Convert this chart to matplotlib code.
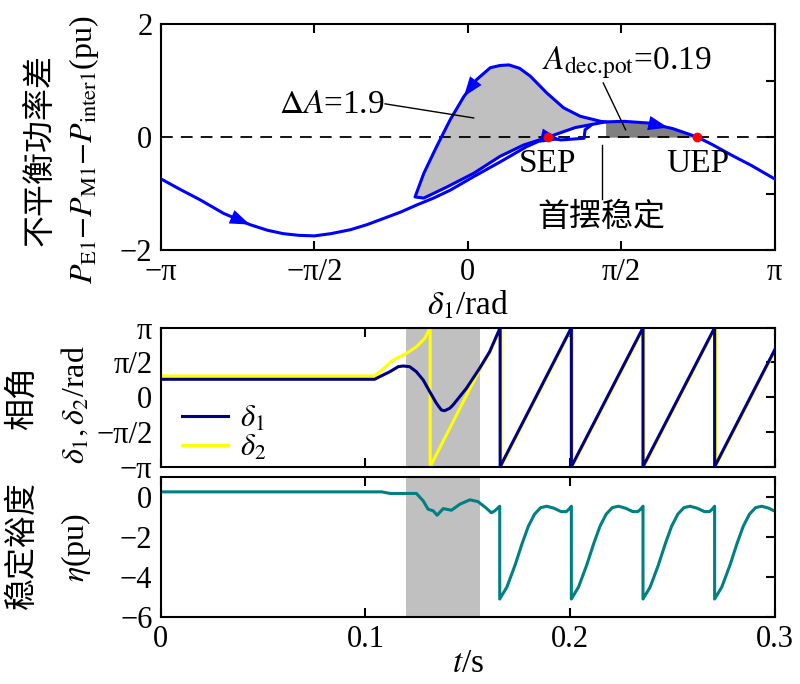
import matplotlib
matplotlib.use('Agg')
import matplotlib.pyplot as plt
import numpy as np

PI = np.pi

# ---------------- data: top panel (delta1 vs unbalanced power) ----------------
main_delta = [-3.14, -2.95, -2.74, -2.50, -2.23, -2.05, -1.89, -1.73, -1.57, -1.40, -1.20,
              -1.03, -0.86, -0.69, -0.52, -0.35, -0.18, 0.06, 0.33, 0.60, 0.82, 1.10, 1.41,
              1.60, 1.85, 2.10, 2.35, 2.50, 2.70, 2.90, 3.14]
main_power = [-0.74, -0.92, -1.11, -1.35, -1.55, -1.65, -1.71, -1.74, -1.75, -1.71, -1.64,
              -1.55, -1.44, -1.33, -1.20, -1.08, -0.94, -0.70, -0.44, -0.17, 0.00, 0.17, 0.27,
              0.28, 0.25, 0.15, 0.00, -0.13, -0.32, -0.50, -0.74]

loop_delta = [1.41, 1.36, 1.15, 0.98, 0.81, 0.64, 0.53, 0.42, 0.33, 0.23, 0.09, -0.04, -0.18,
              -0.32, -0.45, -0.54, -0.45, -0.21, 0.06, 0.33, 0.57, 0.82, 0.95, 1.19, 1.20, 1.26]
loop_power = [0.27, 0.28, 0.37, 0.52, 0.78, 1.08, 1.22, 1.28, 1.27, 1.23, 1.02, 0.72, 0.31,
              -0.17, -0.64, -1.06, -1.08, -0.88, -0.64, -0.34, -0.14, 0.00, -0.05, -0.02, 0.13, 0.21]

sep = (0.82, 0.0)
uep = (2.35, 0.0)
dec_start = 1.41

# ---------------- data: middle panel (angles) ----------------
t_d1 = [0.0, 0.1045, 0.107, 0.1119, 0.1160, 0.1184, 0.1216, 0.1249, 0.1282, 0.1314, 0.1347,
        0.1371, 0.1387, 0.1412, 0.1428, 0.1493, 0.1558, 0.1607, 0.1658, 0.1658, 0.2006, 0.2006,
        0.2356, 0.2356, 0.2706, 0.2706, 0.3]
d1 = [0.81, 0.81, 0.93, 1.15, 1.38, 1.41, 1.38, 1.15, 0.78, 0.25, -0.28,
      -0.58, -0.61, -0.50, -0.35, 0.40, 1.31, 2.06, PI, -PI, PI, -PI,
      PI, -PI, PI, -PI, 2.15]

t_d2 = [0.0, 0.1045, 0.107, 0.1135, 0.1200, 0.1249, 0.1290, 0.1316, 0.1316, 0.1558, 0.1607,
        0.1662, 0.1662, 0.2010, 0.2010, 0.2360, 0.2360, 0.2710, 0.2710, 0.3]
d2 = [0.96, 0.96, 1.15, 1.68, 1.98, 2.28, 2.66, PI, -PI, 1.25, 2.00,
      PI, -PI, PI, -PI, PI, -PI, PI, -PI, 2.08]

# ---------------- data: bottom panel (stability margin) ----------------
t_eta = [0.0, 0.1080, 0.1120, 0.1249, 0.1282, 0.1306, 0.1331, 0.1350, 0.1380, 0.1420, 0.1461,
         0.1510, 0.1550, 0.1591, 0.1615, 0.1632, 0.1656,
         0.1656, 0.1691, 0.1731, 0.1766, 0.1796, 0.1826, 0.1856, 0.1886, 0.1921, 0.1956, 0.1981, 0.1996, 0.2006,
         0.2006, 0.2041, 0.2081, 0.2116, 0.2146, 0.2176, 0.2206, 0.2236, 0.2271, 0.2306, 0.2331, 0.2346, 0.2356,
         0.2356, 0.2391, 0.2431, 0.2466, 0.2496, 0.2526, 0.2556, 0.2586, 0.2621, 0.2656, 0.2681, 0.2696, 0.2706,
         0.2706, 0.2741, 0.2781, 0.2816, 0.2846, 0.2876, 0.2906, 0.2936, 0.2971, 0.3000]
eta = [0.27, 0.27, 0.19, 0.19, -0.18, -0.60, -0.68, -0.90, -0.57, -0.65, -0.35,
       -0.13, -0.22, -0.55, -0.78, -0.68, -0.45,
       -5.10, -4.50, -3.40, -2.30, -1.45, -0.85, -0.52, -0.45, -0.55, -0.72, -0.72, -0.58, -0.45,
       -5.10, -4.50, -3.40, -2.30, -1.45, -0.85, -0.52, -0.45, -0.55, -0.72, -0.72, -0.58, -0.45,
       -5.10, -4.50, -3.40, -2.30, -1.45, -0.85, -0.52, -0.45, -0.55, -0.72, -0.72, -0.58, -0.45,
       -5.10, -4.50, -3.40, -2.30, -1.45, -0.85, -0.52, -0.45, -0.55, -0.70]

fault_start, fault_end = 0.120, 0.156

# ---------------- styling ----------------
plt.rcParams['font.family'] = ['Liberation Serif', 'Noto Sans CJK SC']
plt.rcParams['mathtext.fontset'] = 'stix'
plt.rcParams['axes.linewidth'] = 1.5

FS_TICK = 22
FS_LAB = 23
BLUE = '#0000ff'

fig = plt.figure(figsize=(8, 6.84), dpi=100)
ax1 = fig.add_axes([0.201, 0.6345, 0.7675, 0.330])
ax2 = fig.add_axes([0.201, 0.3177, 0.7675, 0.2032])
ax3 = fig.add_axes([0.201, 0.098, 0.7675, 0.2042])

def style(ax):
    ax.tick_params(direction='in', length=6.5, width=1.5, labelsize=FS_TICK, pad=6,
                   top=True, bottom=True)
    ax.tick_params(axis='y', left=False, right=True, labelleft=True, labelright=False)

# ---------------- top panel ----------------
md = np.array(main_delta); mp = np.array(main_power)
ld = np.array(loop_delta); lp = np.array(loop_power)
isep = int(np.argmin(np.abs(ld - sep[0]) + np.abs(lp - sep[1])))
mask = (md > sep[0]) & (md <= dec_start)
poly_d = np.concatenate([ld[:isep + 1], md[mask]])
poly_p = np.concatenate([lp[:isep + 1], mp[mask]])
ax1.fill(poly_d, poly_p, color='#c0c0c0', lw=0, zorder=1)
ax1.fill_between(md, mp, 0, where=(md >= dec_start) & (md <= uep[0]), color='#808080',
                 lw=0, zorder=1)
ax1.axhline(0, color='k', lw=1.3, ls=(0, (6.5, 4.5)), zorder=2)
ax1.plot(md, mp, color=BLUE, lw=2.2, zorder=3)
ax1.plot(ld, lp, color=BLUE, lw=2.2, zorder=3)

def arrow(ax, xs, ys, i, frac):
    x0, y0, x1, y1 = xs[i], ys[i], xs[i + 1], ys[i + 1]
    tip = (x0 + frac * (x1 - x0), y0 + frac * (y1 - y0))
    tail = (x0 + (frac - 0.05) * (x1 - x0), y0 + (frac - 0.05) * (y1 - y0))
    ax.annotate('', xy=tip, xytext=tail,
                arrowprops=dict(arrowstyle='-|>,head_length=1.1,head_width=0.4',
                                color=BLUE, lw=0, shrinkA=0, shrinkB=0,
                                mutation_scale=13), zorder=6)

arrow(ax1, md, mp, 3, 1.0)
arrow(ax1, md, mp, 24, 0.8)
arrow(ax1, ld, lp, 10, 1.0)
arrow(ax1, ld, lp, 21, 1.0)
ax1.plot([sep[0], uep[0]], [sep[1], uep[1]], 'o', color='red', ms=6, zorder=7)

ax1.plot([-0.846, 0.06], [0.59, 0.34], 'k-', lw=1.0, zorder=4)
ax1.text(-0.846, 0.43, r'$\Delta A$=1.9', fontsize=24, ha='right', va='baseline')
ax1.plot([1.386, 1.615], [0.96, 0.13], 'k-', lw=1.0, zorder=4)
ax1.text(0.76, 1.19, r'$A_{\text{dec.pot}}$=0.19', fontsize=24, ha='left', va='baseline')
ax1.text(sep[0], -0.61, 'SEP', fontsize=24, ha='center', va='baseline')
ax1.text(uep[0], -0.61, 'UEP', fontsize=24, ha='center', va='baseline')
ax1.plot([1.37, 1.37], [-0.14, -1.10], 'k-', lw=1.0, zorder=4)
ax1.text(1.37, -1.42, '首摆稳定', fontsize=23, ha='center', va='center',
         family=['Noto Sans CJK SC'])

ax1.set_xlim(-PI, PI)
ax1.set_ylim(-2, 2)
ax1.set_xticks([-PI, -PI / 2, 0, PI / 2, PI])
ax1.set_xticklabels(['−π', '−π/2', '0', 'π/2', 'π'])
ax1.set_yticks([-2, -1, 0, 1, 2])
ax1.set_yticklabels(['−2', '', '0', '', '2'])
style(ax1)
ax1.set_xlabel(r'$\delta_1$/rad', fontsize=24, labelpad=1)

# ---------------- middle panel ----------------
ax2.axvspan(fault_start, fault_end, color='#c0c0c0', lw=0, zorder=0)
ax2.plot(t_d2, d2, color='#ffff00', lw=2.2, label=r'$\delta_2$', zorder=2)
ax2.plot(t_d1, d1, color='#000080', lw=2.2, label=r'$\delta_1$', zorder=3)
ax2.set_xlim(0, 0.3)
ax2.set_ylim(-PI, PI)
ax2.set_xticks([0, 0.1, 0.2, 0.3])
ax2.set_xticklabels([])
ax2.set_yticks([-PI, -PI / 2, 0, PI / 2, PI])
ax2.set_yticklabels(['−π', '−π/2', '0', 'π/2', 'π'])
style(ax2)
h, l = ax2.get_legend_handles_labels()
ax2.legend([h[1], h[0]], [l[1], l[0]], loc='lower left', bbox_to_anchor=(-0.01, -0.17),
           frameon=False, fontsize=22, handlelength=1.5, handletextpad=0.4,
           labelspacing=0.0)

# ---------------- bottom panel ----------------
ax3.axvspan(fault_start, fault_end, color='#c0c0c0', lw=0, zorder=0)
ax3.plot(t_eta, eta, color='#008080', lw=2.2, zorder=2)
ax3.set_xlim(0, 0.3)
ax3.set_ylim(-6, 1)
ax3.set_xticks([0, 0.1, 0.2, 0.3])
ax3.set_xticklabels(['0', '0.1', '0.2', '0.3'])
ax3.set_yticks([-6, -4, -2, 0])
ax3.set_yticklabels(['−6', '−4', '−2', '0'])
style(ax3)
ax3.set_xlabel(r'$t$/s', fontsize=24, labelpad=-4)

# ---------------- y labels ----------------
fig.text(0.050, 1 - 150 / 684, '不平衡功率差', rotation=90, fontsize=FS_LAB,
         ha='center', va='center', family=['Noto Sans CJK SC'])
fig.text(0.105, 1 - 150 / 684, r'$P_{\rm E1}{-}P_{\rm M1}{-}P_{\rm inter1}$(pu)', rotation=90,
         fontsize=FS_LAB, ha='center', va='center')
fig.text(0.0275, 1 - 398 / 684, '相角', rotation=90, fontsize=FS_LAB,
         ha='center', va='center', family=['Noto Sans CJK SC'])
fig.text(0.095, 1 - 405 / 684, r'$\delta_1,\delta_2$/rad', rotation=90, fontsize=FS_LAB,
         ha='center', va='center')
fig.text(0.0275, 1 - 545 / 684, '稳定裕度', rotation=90, fontsize=FS_LAB,
         ha='center', va='center', family=['Noto Sans CJK SC'])
fig.text(0.095, 1 - 547 / 684, r'$\eta$(pu)', rotation=90, fontsize=FS_LAB,
         ha='center', va='center')

fig.savefig('out.png', dpi=100)
